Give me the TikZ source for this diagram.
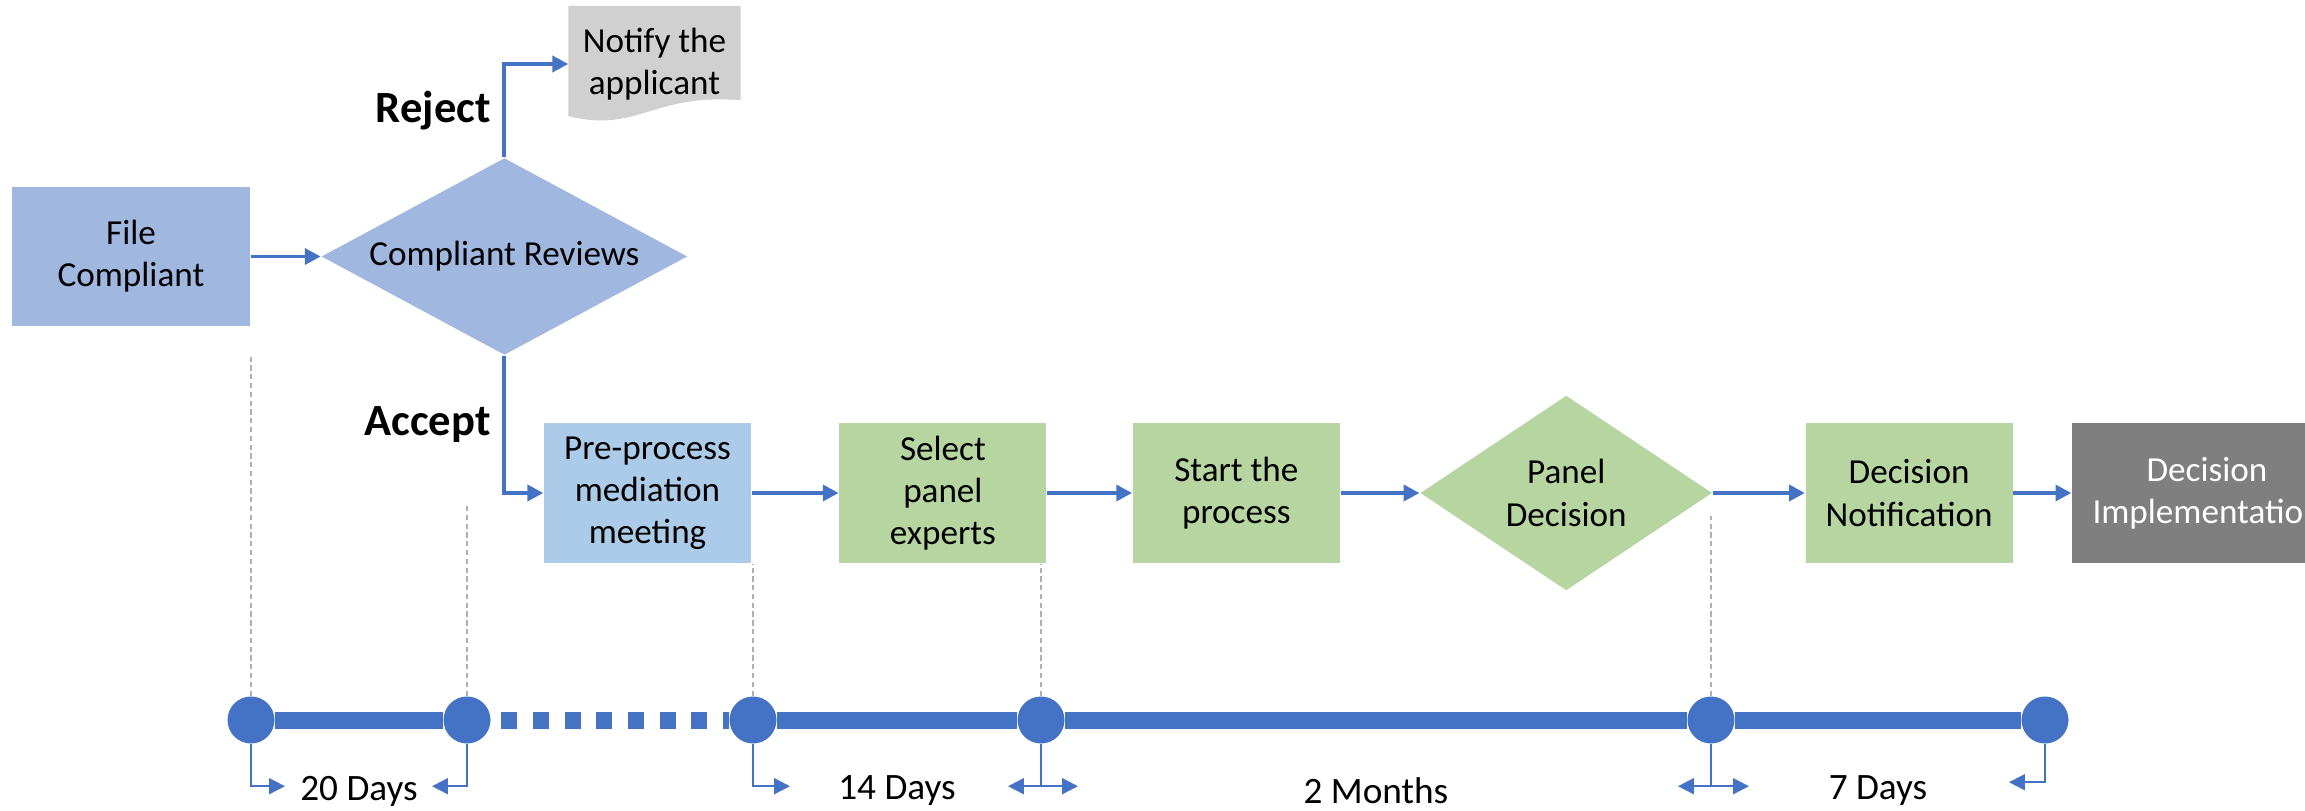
\documentclass[tikz,border=0pt]{standalone}
\usepackage{fontspec}
\setmainfont{Carlito}
\usepackage{tikz}
\usetikzlibrary{shapes.geometric, arrows.meta, calc, positioning, backgrounds}
\definecolor{flowblue}{RGB}{68,114,196}
\definecolor{reviewblue}{RGB}{160,183,224}
\definecolor{prepblue}{RGB}{172,203,233}
\definecolor{panelgreen}{RGB}{182,213,161}
\definecolor{notegray}{RGB}{208,208,208}
\definecolor{implgray}{RGB}{127,127,127}
\definecolor{guidegray}{RGB}{175,175,175}
\tikzstyle{block} = [rectangle, minimum width=2.07cm, minimum height=1.40cm, inner sep=0pt, align=center, font=\fontsize{10}{12}\selectfont]
\tikzstyle{decision} = [diamond, inner sep=0pt, align=center, font=\fontsize{10}{12}\selectfont]
\tikzstyle{note} = [rectangle, minimum width=1.71cm, minimum height=1.15cm, inner sep=0pt, align=center, font=\fontsize{10}{12}\selectfont]
\tikzstyle{arrow} = [draw=flowblue, line width=1.1pt, ->, >={Triangle[length=4.5pt, width=4.5pt]}]
\tikzstyle{branch} = [left, font=\fontsize{12.7}{14}\selectfont\bfseries]
\tikzstyle{guide} = [draw=guidegray, line width=0.35pt, dash pattern=on 1.5pt off 1pt]
\tikzstyle{timeline} = [draw=flowblue, line width=0.17cm]
\tikzstyle{milestone} = [circle, fill=flowblue, minimum size=0.47cm, inner sep=0pt]
\tikzstyle{spanarrow} = [draw=flowblue, line width=0.5pt, >={Triangle[length=4.5pt, width=4.5pt]}]
\tikzstyle{duration} = [yshift=-0.71cm, font=\fontsize{10.6}{12}\selectfont]
\begin{document}
\begin{tikzpicture}
	\useasboundingbox (0,0) rectangle (23.05,-8.11);
	\clip (0,0) rectangle (23.05,-8.11);
	\node (File) [block, fill=reviewblue, minimum width=2.38cm, minimum height=1.39cm] at (1.31,-2.565) {File\\Compliant};
	\node (Reviews) [decision, fill=reviewblue, minimum width=3.66cm, minimum height=1.97cm, aspect=1.86, right = 0.70cm of File] {Compliant Reviews};
	\node (Notify) [note] at (6.545,-0.64) {Notify the\\applicant};
	\node (Pre) [block, fill=prepblue] at (6.475,-4.93) {Pre-process\\mediation\\meeting};
	\node (Select) [block, fill=panelgreen, right = 0.87cm of Pre] {Select\\panel\\experts};
	\node (Start) [block, fill=panelgreen, right = 0.85cm of Select] {Start the\\process};
	\node (Panel) [decision, fill=panelgreen, minimum width=2.92cm, minimum height=1.95cm, aspect=1.5, right = 0.79cm of Start] {Panel\\Decision};
	\node (Notif) [block, fill=panelgreen, right = 0.92cm of Panel] {Decision\\Notification};
	\node (Impl) [block, fill=implgray, text=white, minimum width=2.70cm, right = 0.58cm of Notif] {Decision\\Implementation};
	\begin{pgfonlayer}{background}
		\fill[notegray] (Notify.north west) -- (Notify.north east) -- ([yshift=0.22cm]Notify.south east) .. controls +(-0.90,0.07) and +(0.71,-0.17) .. ([yshift=0.06cm]Notify.south west) -- cycle;
	\end{pgfonlayer}
	\draw [arrow] (File) -- (Reviews);
	\draw [arrow] (Reviews.north) |- node[branch, pos=0.25]{Reject} (Notify.west);
	\draw [arrow] (Reviews.south) |- node[branch, pos=0.25]{Accept} (Pre.west);
	\draw [arrow] (Pre) -- (Select);
	\draw [arrow] (Select) -- (Start);
	\draw [arrow] (Start) -- (Panel);
	\draw [arrow] (Panel) -- (Notif);
	\draw [arrow] (Notif) -- (Impl);
	\node (T1) [milestone] at (2.51,-7.20) {};
	\node (T2) [milestone] at (4.67,-7.20) {};
	\node (T3) [milestone] at (7.53,-7.20) {};
	\node (T4) [milestone] at (10.41,-7.20) {};
	\node (T5) [milestone] at (17.11,-7.20) {};
	\node (T6) [milestone] at (20.45,-7.20) {};
	\draw [guide] (T1.north) -- (T1 |- Reviews.south);
	\draw [guide] (T2.north) -- ++(0,1.90);
	\draw [guide] (T3.north) -- (T3 |- Pre.south);
	\draw [guide] (T4.north) -- (T4 |- Select.south);
	\draw [guide] (T5.north) -- ++(0,1.80);
	\draw [timeline] (T1) -- (T2);
	\draw [timeline, dash pattern=on 0.16cm off 0.157cm, shorten <=0.1cm] (T2.east) -- (T3.west);
	\draw [timeline] (T3) -- (T4) -- (T5) -- (T6);
	\draw [spanarrow, ->] (T1.south) |- ++(0.34,-0.42);
	\draw [spanarrow, ->] (T2.south) |- ++(-0.35,-0.42);
	\draw [spanarrow, ->] (T3.south) |- ++(0.37,-0.42);
	\draw [spanarrow] (T4.south) -- ++(0,-0.42) coordinate (T4b);
	\draw [spanarrow, <->] ([xshift=-0.33cm]T4b) -- ([xshift=0.37cm]T4b);
	\draw [spanarrow] (T5.south) -- ++(0,-0.42) coordinate (T5b);
	\draw [spanarrow, <->] ([xshift=-0.33cm]T5b) -- ([xshift=0.38cm]T5b);
	\draw [spanarrow, ->] (T6.south) |- ++(-0.36,-0.38);
	\path (T1) -- node[duration]{20 Days} (T2);
	\path (T3) -- node[duration]{14 Days} (T4);
	\path (T4) -- node[duration]{2 Months} (T5);
	\path (T5) -- node[duration]{7 Days} (T6);
\end{tikzpicture}
\end{document}
